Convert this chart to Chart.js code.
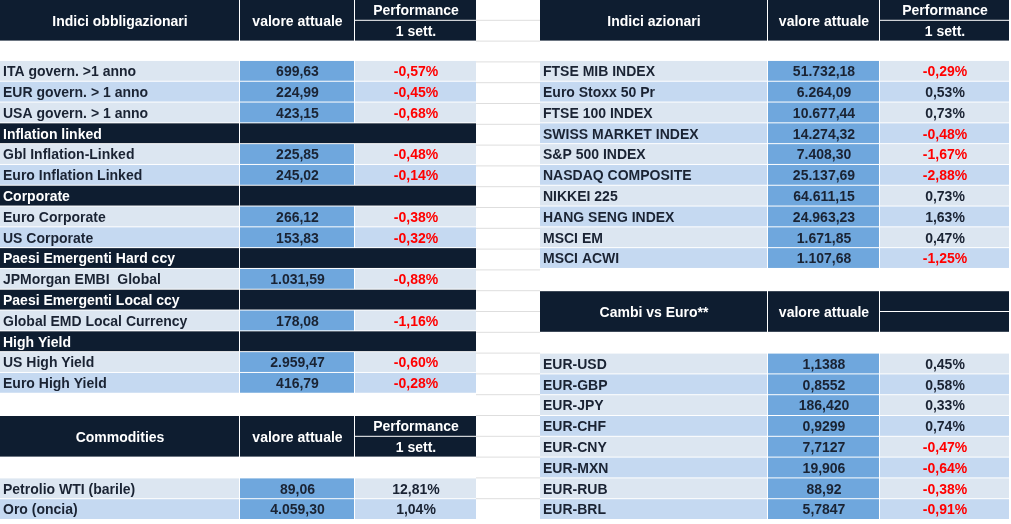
<!DOCTYPE html>
<html><head><meta charset="utf-8">
<script src="https://cdn.jsdelivr.net/npm/chart.js@4"></script>
<style>html,body{margin:0;padding:0;background:#fff}#w{width:1011px;height:524px}</style>
</head><body><div id="w"><canvas id="c"></canvas></div>
<script>
// Left table: bond indices (section markers have null value)
const bondNames = ["ITA govern. >1 anno","EUR govern. > 1 anno","USA govern. > 1 anno","Inflation linked","Gbl Inflation-Linked","Euro Inflation Linked","Corporate","Euro Corporate","US Corporate","Paesi Emergenti Hard ccy","JPMorgan EMBI  Global","Paesi Emergenti Local ccy","Global EMD Local Currency","High Yield","US High Yield","Euro High Yield"];
const bondValues = ["699,63","224,99","423,15",null,"225,85","245,02",null,"266,12","153,83",null,"1.031,59",null,"178,08",null,"2.959,47","416,79"];
const bondPerf = [-0.57,-0.45,-0.68,null,-0.48,-0.14,null,-0.38,-0.32,null,-0.88,null,-1.16,null,-0.60,-0.28];
const commNames = ["Petrolio WTI (barile)","Oro (oncia)"];
const commValues = ["89,06","4.059,30"];
const commPerf = [12.81,1.04];
const eqNames = ["FTSE MIB INDEX","Euro Stoxx 50 Pr","FTSE 100 INDEX","SWISS MARKET INDEX","S&P 500 INDEX","NASDAQ COMPOSITE","NIKKEI 225","HANG SENG INDEX","MSCI EM","MSCI ACWI"];
const eqValues = ["51.732,18","6.264,09","10.677,44","14.274,32","7.408,30","25.137,69","64.611,15","24.963,23","1.671,85","1.107,68"];
const eqPerf = [-0.29,0.53,0.73,-0.48,-1.67,-2.88,0.73,1.63,0.47,-1.25];
const fxNames = ["EUR-USD","EUR-GBP","EUR-JPY","EUR-CHF","EUR-CNY","EUR-MXN","EUR-RUB","EUR-BRL"];
const fxValues = ["1,1388","0,8552","186,420","0,9299","7,7127","19,906","88,92","5,7847"];
const fxPerf = [0.45,0.58,0.33,0.74,-0.47,-0.64,-0.38,-0.91];

const RH = 20.8, NAVY = "#0e1d30", L1 = "#dce6f1", L2 = "#c5d9f1", VB = "#6fa7dd", TX = "#1a2333";
const fmt = v => v.toFixed(2).replace(".", ",") + "%";

const tablePlugin = {
  id: "table",
  afterDraw(chart) {
    const ctx = chart.ctx, xs = chart.scales.x, ys = chart.scales.y;
    const X = v => xs.getPixelForValue(v), Y = r => ys.getPixelForValue(r * RH);
    const rect = (x0, x1, r0, r1, col) => { ctx.fillStyle = col; ctx.fillRect(X(x0), Y(r0), X(x1) - X(x0) - 1, Y(r1) - Y(r0) - 1); };
    const text = (s, x, r0, r1, col, align) => {
      ctx.fillStyle = col; ctx.textAlign = align; ctx.textBaseline = "middle";
      ctx.fillText(s, X(x), (Y(r0) + Y(r1)) / 2 + 1);
    };
    ctx.save();
    ctx.font = "bold 14px 'Liberation Sans', Arial, sans-serif";
    // faint grid in gap
    ctx.strokeStyle = "#dedede"; ctx.lineWidth = 1;
    for (let r = 1; r < 25; r++) { ctx.beginPath(); ctx.moveTo(X(476), Y(r) - 0.5); ctx.lineTo(X(540), Y(r) - 0.5); ctx.stroke(); }
    function header(cols, r0, t1, t2, perf) {
      rect(cols[0], cols[1], r0, r0 + 2, NAVY); rect(cols[1], cols[2], r0, r0 + 2, NAVY);
      rect(cols[2], cols[3], r0, r0 + 1, NAVY); rect(cols[2], cols[3], r0 + 1, r0 + 2, NAVY);
      text(t1, (cols[0] + cols[1]) / 2, r0, r0 + 2, "#fff", "center");
      text(t2, (cols[1] + cols[2]) / 2, r0, r0 + 2, "#fff", "center");
      if (perf) { text("Performance", (cols[2] + cols[3]) / 2, r0, r0 + 1, "#fff", "center"); text("1 sett.", (cols[2] + cols[3]) / 2, r0 + 1, r0 + 2, "#fff", "center"); }
    }
    function body(cols, r0, names, vals, perfs) {
      let k = 0;
      names.forEach((n, i) => {
        const r = r0 + i;
        if (vals[i] === null) {
          rect(cols[0], cols[1], r, r + 1, NAVY); rect(cols[1], cols[3], r, r + 1, NAVY);
          text(n, cols[0] + 3, r, r + 1, "#fff", "left"); k = 0; return;
        }
        const bg = k % 2 === 0 ? L1 : L2; k++;
        rect(cols[0], cols[1], r, r + 1, bg); rect(cols[1], cols[2], r, r + 1, VB); rect(cols[2], cols[3], r, r + 1, bg);
        text(n, cols[0] + 3, r, r + 1, TX, "left");
        text(vals[i], (cols[1] + cols[2]) / 2, r, r + 1, TX, "center");
        text(fmt(perfs[i]), (cols[2] + cols[3]) / 2, r, r + 1, perfs[i] < 0 ? "#ff0000" : TX, "center");
      });
    }
    const LC = [0, 240, 355, 477], RC = [540, 768, 880, 1010];
    header(LC, 0, "Indici obbligazionari", "valore attuale", true);
    body(LC, 2.93, bondNames, bondValues, bondPerf);
    header(LC, 20, "Commodities", "valore attuale", true);
    body(LC, 23, commNames, commValues, commPerf);
    header(RC, 0, "Indici azionari", "valore attuale", true);
    body(RC, 2.93, eqNames, eqValues, eqPerf);
    header(RC, 14, "Cambi vs Euro**", "valore attuale", false);
    body(RC, 17, fxNames, fxValues, fxPerf);
    ctx.restore();
  }
};

new Chart(document.getElementById("c"), {
  type: "scatter",
  data: { datasets: [{ data: [] }] },
  options: {
    responsive: true, maintainAspectRatio: false, animation: false,
    layout: { padding: 0 },
    plugins: { legend: { display: false }, tooltip: { enabled: false } },
    scales: {
      x: { type: "linear", min: 0, max: 1011, display: false },
      y: { type: "linear", min: 0, max: 524, reverse: true, display: false }
    }
  },
  plugins: [tablePlugin]
});
</script></body></html>
